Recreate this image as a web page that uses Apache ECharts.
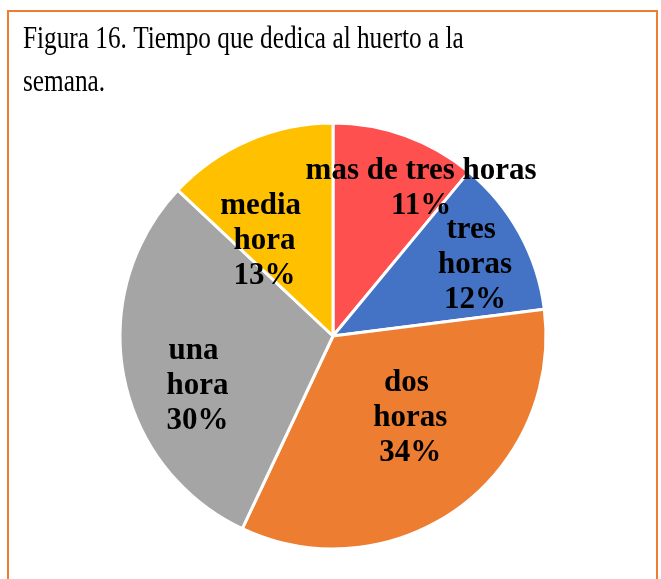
<!DOCTYPE html>
<html>

<head>
	<meta charset="utf-8" />
	<title>Figura 16</title>
	<script src="https://cdn.jsdelivr.net/npm/echarts@6/dist/echarts.min.js"></script>
	<style>
		body { margin: 0; background: #fff; }
		#main { width: 661px; height: 579px; }
	</style>
</head>

<body>
	<div id="main"></div>
	<script type="text/javascript">
		// datos del grafico
		var categorias = ["mas de tres horas", "tres horas", "dos horas", "una hora", "media hora"];
		var porcentajes = [11, 12, 34, 30, 13];
		var colores = ["#FF5050", "#4472C4", "#ED7D31", "#A5A5A5", "#FFC000"];
		// ajuste de etiquetas (px) respecto a la posicion interior por defecto
		var ajusteX = [51, 46, 13, -28, -25];
		var ajusteY = [-44, -18, -7, 29, 5];

		var datos = [];
		for (var i = 0; i < categorias.length; i++) {
			datos.push({
				name: categorias[i],
				value: porcentajes[i],
				itemStyle: { color: colores[i] },
				label: { width: i == 0 ? 300 : 100 }
			});
		}

		var myChart = echarts.init(document.getElementById('main'));

		option = {
			animation: false,
			graphic: [{
				type: 'rect',
				shape: { x: 8, y: 11, width: 649, height: 620 },
				style: { fill: null, stroke: '#ED7D31', lineWidth: 2 }
			}, {
				// titulo (letra estrecha como en el original)
				type: 'text',
				x: 23,
				y: 18,
				scaleX: 0.79,
				style: {
					text: "Figura 16. Tiempo que dedica al huerto a la\nsemana.",
					fontFamily: "Liberation Serif",
					fontSize: 32,
					lineHeight: 43,
					fill: "#000",
					verticalAlign: 'top'
				}
			}],
			series: [{
				type: 'pie',
				center: [333, 336],
				radius: 213,
				startAngle: 90,
				clockwise: true,
				data: datos,
				itemStyle: { borderColor: '#fff', borderWidth: 3 },
				label: {
					position: 'inside',
					formatter: '{b}\n{c}%',
					overflow: 'break',
					fontFamily: "Liberation Serif",
					fontWeight: "bold",
					fontSize: 31,
					lineHeight: 35,
					color: "#000",
					align: 'center'
				},
				labelLine: { show: false },
				labelLayout: function (params) {
					return { dx: ajusteX[params.dataIndex], dy: ajusteY[params.dataIndex] };
				}
			}]
		};

		myChart.setOption(option);
	</script>
</body>

</html>
